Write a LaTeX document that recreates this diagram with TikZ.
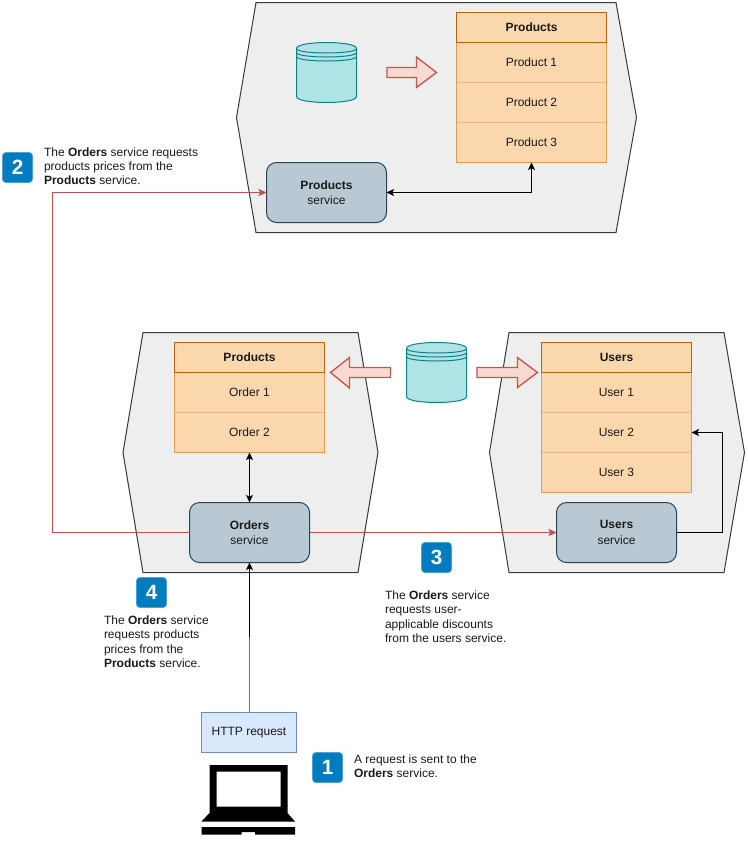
\documentclass[tikz,border=0pt]{standalone}
\usepackage{fontspec}
\setmainfont{Liberation Sans}
\usetikzlibrary{arrows.meta}
\definecolor{hexfill}{HTML}{EEEEEE}
\definecolor{hexline}{HTML}{36393D}
\definecolor{tabfill}{HTML}{FAD7AC}
\definecolor{tabhead}{HTML}{B46504}
\definecolor{tabouter}{HTML}{E09C55}
\definecolor{tabinner}{HTML}{E8B67F}
\definecolor{svcfill}{HTML}{BAC8D3}
\definecolor{svcline}{HTML}{23445D}
\definecolor{cylfill}{HTML}{B0E3E6}
\definecolor{cylline}{HTML}{0E8088}
\definecolor{blockfill}{HTML}{FAD9D5}
\definecolor{blockline}{HTML}{C0584B}
\definecolor{redline}{HTML}{B85450}
\definecolor{badgefill}{HTML}{007CBF}
\definecolor{txt}{HTML}{1A1A1A}
\definecolor{httpfill}{HTML}{DAE8FC}
\definecolor{httpline}{HTML}{6C8EBF}
\tikzset{
  x=0.75pt, y=-0.75pt,
  every node/.style={inner sep=0pt, outer sep=0pt, font=\fontsize{9pt}{10.8pt}\selectfont, text=txt},
  hexa/.style={draw=hexline, fill=hexfill, line width=0.75pt},
  tabrow/.style={draw=tabinner, fill=tabfill, line width=0.75pt, minimum width=112.5pt, minimum height=30pt},
  tabtitle/.style={draw=tabhead, fill=tabfill, line width=0.75pt, minimum width=112.5pt, minimum height=22.5pt, font=\fontsize{9pt}{10.8pt}\bfseries\selectfont},
  tabframe/.style={draw=tabouter, line width=0.75pt},
  svc/.style={draw=svcline, fill=svcfill, line width=0.75pt, rounded corners=7.5pt, minimum width=90pt, minimum height=45pt, align=center},
  cyl/.style={draw=cylline, fill=cylfill, line width=0.75pt},
  cylin/.style={draw=cylline, line width=0.75pt},
  block/.style={draw=blockline, fill=blockfill, line width=1pt},
  badge/.style={fill=badgefill, draw=badgefill!70!white, line width=0.5pt, rounded corners=2.5pt, minimum width=22.5pt, minimum height=22.5pt, text=white, font=\fontsize{15.5pt}{16pt}\bfseries\selectfont},
  note/.style={anchor=north west, align=left},
  link/.style={line width=0.75pt, draw=black},
  tip/.style={-{Stealth[length=5.6pt,width=5.2pt,inset=1.3pt]}},
  both/.style={{Stealth[length=5.6pt,width=5.2pt,inset=1.3pt]}-{Stealth[length=5.6pt,width=5.2pt,inset=1.3pt]}},
  redlink/.style={line width=0.75pt, draw=redline},
  redtip/.style={-{Stealth[length=6pt,width=5.4pt,inset=1.2pt,fill=redline]}},
}
\newcommand{\dbcyl}[2]{%
  \path[cyl] (#1,#2+6) .. controls (#1,#2-2) and (#1+60,#2-2) .. (#1+60,#2+6)
    -- (#1+60,#2+54) .. controls (#1+60,#2+62) and (#1,#2+62) .. (#1,#2+54) -- cycle;
  \foreach \off in {0,4,8}{
    \draw[cylin] (#1,#2+6+\off) .. controls (#1,#2+12+\off) and (#1+60,#2+12+\off) .. (#1+60,#2+6+\off);
  }
}
\begin{document}
\begin{tikzpicture}
\useasboundingbox (0,0) rectangle (747,850);
\fill[white] (0,0) rectangle (747,850);

% hexagons
\draw[hexa] (256,2.5) -- (616,2.5) -- (636.5,117.5) -- (616,232.5) -- (256,232.5) -- (236.5,117.5) -- cycle;
\draw[hexa] (143,332.5) -- (358,332.5) -- (378,452.5) -- (358,572.5) -- (143,572.5) -- (123,452.5) -- cycle;
\draw[hexa] (509,332.5) -- (724,332.5) -- (744.5,452.5) -- (724,572.5) -- (509,572.5) -- (489.5,452.5) -- cycle;

% top table
\node[tabrow] (p1) at (531.5,62.5) {Product 1};
\node[tabrow] (p2) at (531.5,102.5) {Product 2};
\node[tabrow] (p3) at (531.5,142.5) {Product 3};
\draw[tabframe] (p1.north west) rectangle (p3.south east);
\node[tabtitle, text depth=0pt, text height=6.5pt] (pt) at (531.5,27.5) {Products};

% left table
\node[tabrow] (o1) at (249.5,392.5) {Order 1};
\node[tabrow] (o2) at (249.5,432.5) {Order 2};
\draw[tabframe] (o1.north west) rectangle (o2.south east);
\node[tabtitle, text depth=0pt, text height=6.5pt] (ot) at (249.5,357.5) {Products};

% right table
\node[tabrow] (u1) at (616.5,392.5) {User 1};
\node[tabrow] (u2) at (616.5,432.5) {User 2};
\node[tabrow] (u3) at (616.5,472.5) {User 3};
\draw[tabframe] (u1.north west) rectangle (u3.south east);
\node[tabtitle, text depth=0pt, text height=6.5pt] (ut) at (616.5,357.5) {Users};

% services
\node[svc] (ps) at (326.5,192.5) {\textbf{Products}\\[0.6pt]service};
\node[svc] (os) at (249.5,532.5) {\textbf{Orders}\\[0.6pt]service};
\node[svc] (us) at (616.5,532.5) {\textbf{Users}\\[0.6pt]service};

% databases
\dbcyl{296.5}{42.5}
\dbcyl{406.5}{342.5}

% block arrows
\draw[block] (387,67.5) -- (416.5,67.5) -- (416.5,57) -- (436.5,72.5) -- (416.5,87.5) -- (416.5,77.5) -- (387,77.5) -- cycle;
\draw[block] (390.5,367.5) -- (349.5,367.5) -- (349.5,357.5) -- (330.5,372.5) -- (349.5,388) -- (349.5,377.5) -- (390.5,377.5) -- cycle;
\draw[block] (477,367.5) -- (517.5,367.5) -- (517.5,357.5) -- (537.5,372.5) -- (517.5,387.5) -- (517.5,377.5) -- (477,377.5) -- cycle;

% http + laptop
\node[draw=httpline, fill=httpfill, line width=0.75pt, minimum width=71.25pt, minimum height=30pt] (http) at (249,732.5) {HTTP request};
\fill[black, even odd rule] (209.5,765) -- (287.5,765) -- (287.5,813) -- (295,821.5) -- (201.5,821.5) -- (209.5,813) -- cycle
  (216.5,771.5) -- (280.5,771.5) -- (280.5,806.5) -- (216.5,806.5) -- cycle;
\fill[black] (201.5,827) -- (295,827) -- (295,834.5) -- (255,834.5) -- (255,832) -- (241.5,832) -- (241.5,834.5) -- (201.5,834.5) -- cycle;

% connectors
\coordinate (bendL) at (52.5,532.5);
\coordinate (bendU) at (52.5,192.5);
\draw[redlink, redtip] (os.west) -- (bendL) -- (bendU) -- (ps.west);
\draw[redlink, redtip] (os.east) -- (us.west);
\coordinate (pcorner) at (531.5,192.5);
\draw[link, both] (ps.east) -- (pcorner) -- (p3.south -| pcorner);
\draw[link, both] (o2.south) -- (os.north);
\coordinate (uA) at (722.5,532.5);
\coordinate (uB) at (722.5,432.5);
\draw[link, tip] (us.east) -- (uA) -- (uB) -- (u2.east);
\coordinate (hmid) at (249.5,637);
\draw[line width=1.1pt, draw=black!58] (http.north -| hmid) -- (hmid);
\draw[link, tip] (hmid) -- (os.south -| hmid);

% badges and notes
\node[badge] (b2) at (17.5,167.5) {2};
\node[note] (n2) at (44,147.5) {The \textbf{Orders} service requests\\products prices from the\\\textbf{Products} service.};
\node[badge] (b3) at (436.5,557.5) {3};
\node[note] (n3) at (385,590.5) {The \textbf{Orders} service\\requests user-\\applicable discounts\\from the users service.};
\node[badge] (b4) at (151.5,592.5) {4};
\node[note] (n4) at (104,615.5) {The \textbf{Orders} service\\requests products\\prices from the\\\textbf{Products} service.};
\node[badge] (b1) at (327.5,767.5) {1};
\node[note] (n1) at (354,754.5) {A request is sent to the\\\textbf{Orders} service.};
\end{tikzpicture}
\end{document}
